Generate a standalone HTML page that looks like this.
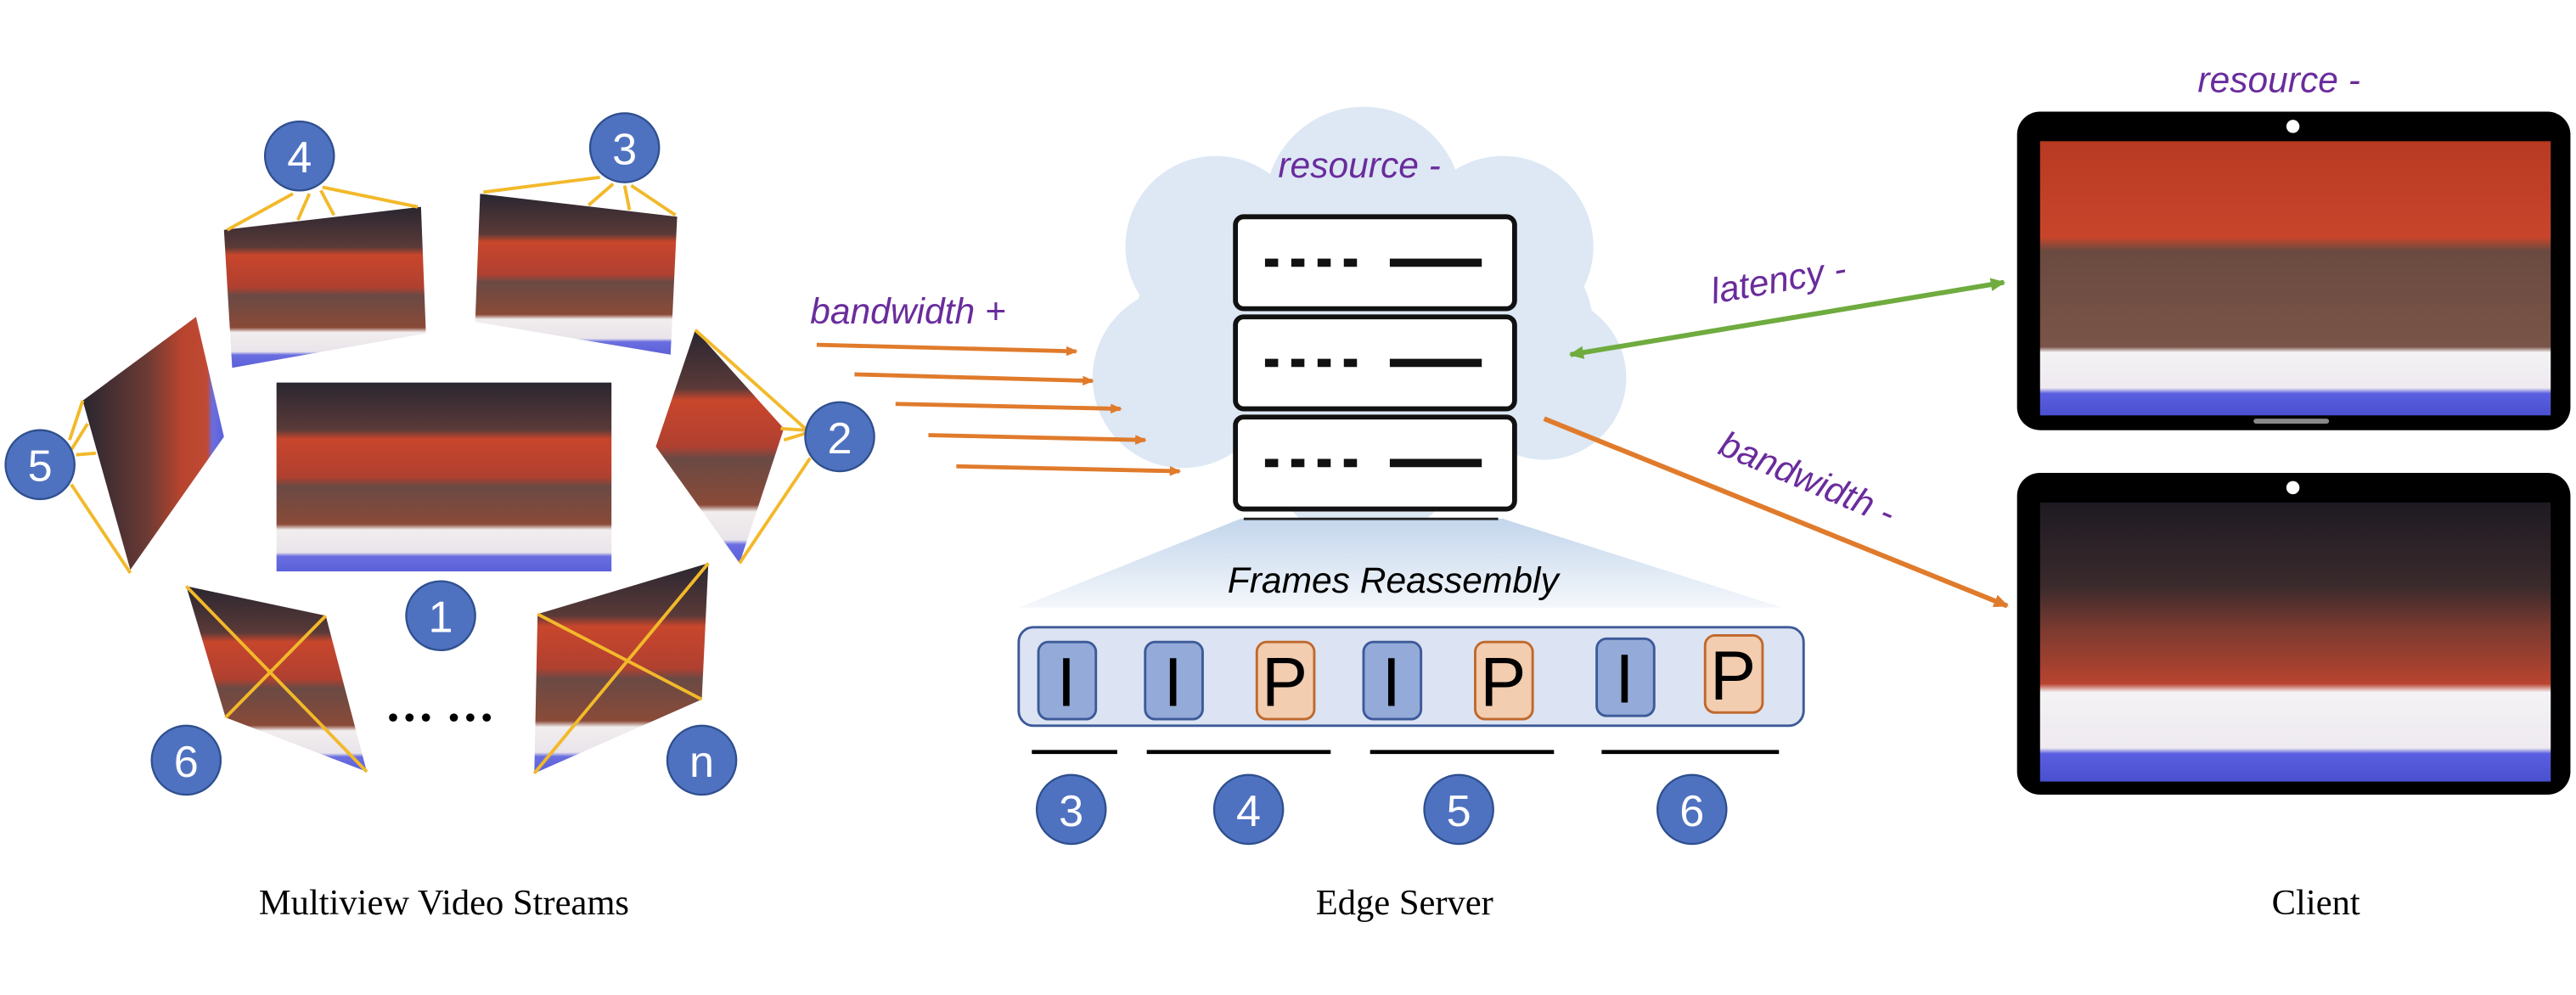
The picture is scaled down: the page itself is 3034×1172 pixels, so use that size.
<!DOCTYPE html>
<html><head><meta charset="utf-8"><style>
html,body{margin:0;padding:0;background:#fff;}
svg{display:block;}
</style></head><body>
<svg width="3034" height="1172" viewBox="0 0 1568 606" xmlns="http://www.w3.org/2000/svg">
<defs>
<linearGradient id="ph" x1="0" y1="0" x2="0" y2="1">
<stop offset="0" stop-color="#2a2630"/><stop offset="0.25" stop-color="#5a3a38"/>
<stop offset="0.3" stop-color="#c8462c"/><stop offset="0.5" stop-color="#b04030"/>
<stop offset="0.55" stop-color="#6a4a44"/><stop offset="0.75" stop-color="#8a4a38"/>
<stop offset="0.78" stop-color="#f2eeee"/><stop offset="0.9" stop-color="#e8e4ea"/>
<stop offset="0.92" stop-color="#6a6ee0"/><stop offset="1" stop-color="#5a60d8"/>
</linearGradient>
<linearGradient id="phs" x1="0" y1="0" x2="1" y2="0">
<stop offset="0" stop-color="#2a2630"/><stop offset="0.45" stop-color="#6a3a34"/>
<stop offset="0.7" stop-color="#b8442e"/><stop offset="0.88" stop-color="#c04a34"/>
<stop offset="0.92" stop-color="#6a6ee0"/><stop offset="1" stop-color="#5a60d8"/>
</linearGradient>
<linearGradient id="scr" x1="0" y1="0" x2="0" y2="1">
<stop offset="0" stop-color="#b83a22"/><stop offset="0.35" stop-color="#c8452b"/>
<stop offset="0.4" stop-color="#6a4a40"/><stop offset="0.75" stop-color="#7a5448"/>
<stop offset="0.77" stop-color="#f4f2f4"/><stop offset="0.9" stop-color="#eeeaf0"/>
<stop offset="0.92" stop-color="#5a5ee0"/><stop offset="1" stop-color="#4a50d0"/>
</linearGradient>
<linearGradient id="scr2" x1="0" y1="0" x2="0" y2="1">
<stop offset="0" stop-color="#1e1a22"/><stop offset="0.3" stop-color="#3a2a2c"/>
<stop offset="0.45" stop-color="#7a3a30"/><stop offset="0.65" stop-color="#b84430"/>
<stop offset="0.68" stop-color="#f4f2f4"/><stop offset="0.88" stop-color="#eeeaf0"/>
<stop offset="0.9" stop-color="#5a5ee0"/><stop offset="1" stop-color="#4a50d0"/>
</linearGradient>
<linearGradient id="tz" x1="0" y1="0" x2="0" y2="1">
<stop offset="0" stop-color="#c3d6ec"/><stop offset="1" stop-color="#f4f7fb"/>
</linearGradient>
<marker id="ao" markerWidth="8" markerHeight="8" refX="6" refY="3" orient="auto" markerUnits="userSpaceOnUse"><path d="M0,0 L7,3 L0,6 Z" fill="#e07b2c"/></marker>
<marker id="ag" markerWidth="10" markerHeight="10" refX="8" refY="4" orient="auto-start-reverse" markerUnits="userSpaceOnUse"><path d="M0,0 L9,4 L0,8 Z" fill="#6fab3e"/></marker>
<marker id="ao2" markerWidth="10" markerHeight="10" refX="8" refY="4" orient="auto" markerUnits="userSpaceOnUse"><path d="M0,0 L9,4 L0,8 Z" fill="#e07b2c"/></marker>
</defs>
<g font-family="Liberation Sans, sans-serif">
<rect x="168" y="233" width="204" height="115" fill="url(#ph)"/>
<polygon points="136,140 256,126 259,203 141,224" fill="url(#ph)"/>
<polygon points="292,118 412,132 408,216 289,196" fill="url(#ph)"/>
<polygon points="50,244 119,193 136,266 79,347" fill="url(#phs)"/>
<polygon points="423,201 477,261 450,343 399,272" fill="url(#ph)"/>
<polygon points="113,357 198,375 223,470 137,437" fill="url(#ph)"/>
<polygon points="327,374 431,343 427,426 325,471" fill="url(#ph)"/>
<g stroke="#f2b92a" stroke-width="2" fill="none">
<line x1="178" y1="118" x2="138" y2="140"/><line x1="188" y1="118" x2="181" y2="134"/>
<line x1="195" y1="116" x2="203" y2="131"/><line x1="196" y1="114" x2="254" y2="126"/>
<line x1="365" y1="108" x2="294" y2="117"/><line x1="373" y1="112" x2="358" y2="125"/>
<line x1="380" y1="113" x2="383" y2="128"/><line x1="384" y1="113" x2="411" y2="131"/>
<line x1="42" y1="268" x2="50" y2="244"/><line x1="43" y1="274" x2="53" y2="258"/>
<line x1="46" y1="277" x2="58" y2="276"/><line x1="43" y1="295" x2="79" y2="349"/>
<line x1="490" y1="261" x2="423" y2="201"/><line x1="490" y1="264" x2="477" y2="268"/>
<line x1="490" y1="262" x2="475" y2="261"/><line x1="493" y1="279" x2="450" y2="343"/>
<line x1="113" y1="357" x2="223" y2="470"/><line x1="198" y1="375" x2="137" y2="437"/>
<line x1="327" y1="374" x2="427" y2="426"/><line x1="431" y1="343" x2="325" y2="471"/>
</g>
<g fill="#4f72c0" stroke="#2f4f8f" stroke-width="1.2">
<circle cx="268" cy="375" r="21"/><circle cx="182" cy="95" r="21"/><circle cx="380" cy="90" r="21"/>
<circle cx="24" cy="283" r="21"/><circle cx="511" cy="266" r="21"/><circle cx="113" cy="463" r="21"/>
<circle cx="427" cy="463" r="21"/>
<circle cx="652" cy="493" r="21"/><circle cx="760" cy="493" r="21"/><circle cx="888" cy="493" r="21"/><circle cx="1030" cy="493" r="21"/>
</g>
<g fill="#fff" font-size="27" text-anchor="middle">
<text x="268" y="385">1</text><text x="182" y="105">4</text><text x="380" y="100">3</text>
<text x="24" y="293">5</text><text x="511" y="276">2</text><text x="113" y="473">6</text>
<text x="427" y="473">n</text>
<text x="652" y="503">3</text><text x="760" y="503">4</text><text x="888" y="503">5</text><text x="1030" y="503">6</text>
</g>
<g fill="#000"><circle cx="239" cy="437" r="2.5"/><circle cx="249" cy="437" r="2.5"/><circle cx="259" cy="437" r="2.5"/>
<circle cx="276" cy="437" r="2.5"/><circle cx="286" cy="437" r="2.5"/><circle cx="296" cy="437" r="2.5"/></g>
<g fill="#dde8f4">
<circle cx="740" cy="150" r="55"/><circle cx="830" cy="125" r="60"/><circle cx="915" cy="150" r="55"/>
<circle cx="720" cy="230" r="55"/><circle cx="940" cy="230" r="50"/><circle cx="830" cy="270" r="60"/>
<ellipse cx="830" cy="200" rx="140" ry="90"/>
</g>
<polygon points="755,316 915,316 1085,370 620,370" fill="url(#tz)"/>
<g fill="#fff" stroke="#111" stroke-width="3">
<rect x="752" y="132" width="170" height="56" rx="5"/><rect x="752" y="193" width="170" height="56" rx="5"/><rect x="752" y="254" width="170" height="56" rx="5"/>
</g>
<g stroke="#111" stroke-width="5">
<path d="M770 160h8M786 160h8M802 160h8M818 160h8M846 160h56"/>
<path d="M770 221h8M786 221h8M802 221h8M818 221h8M846 221h56"/>
<path d="M770 282h8M786 282h8M802 282h8M818 282h8M846 282h56"/>
</g>
<line x1="757" y1="316" x2="912" y2="316" stroke="#222" stroke-width="1.5"/>
<text x="848" y="361" font-size="22" font-style="italic" text-anchor="middle">Frames Reassembly</text>
<rect x="620" y="382" width="478" height="60" rx="9" fill="#dce4f3" stroke="#3d5a99" stroke-width="1.5"/>
<g stroke-width="1.5">
<rect x="632" y="391" width="35" height="47" rx="6" fill="#94aad8" stroke="#3d5a99"/>
<rect x="697" y="391" width="35" height="47" rx="6" fill="#94aad8" stroke="#3d5a99"/>
<rect x="765" y="391" width="35" height="47" rx="6" fill="#f2cdb0" stroke="#c0682c"/>
<rect x="830" y="391" width="35" height="47" rx="6" fill="#94aad8" stroke="#3d5a99"/>
<rect x="898" y="391" width="35" height="47" rx="6" fill="#f2cdb0" stroke="#c0682c"/>
<rect x="972" y="389" width="35" height="47" rx="6" fill="#94aad8" stroke="#3d5a99"/>
<rect x="1038" y="387" width="35" height="47" rx="6" fill="#f2cdb0" stroke="#c0682c"/>
</g>
<g font-size="42" text-anchor="middle" fill="#000">
<text x="649" y="430">I</text><text x="714" y="430">I</text><text x="782" y="430">P</text>
<text x="847" y="430">I</text><text x="915" y="430">P</text><text x="989" y="428">I</text><text x="1055" y="426">P</text>
</g>
<g stroke="#000" stroke-width="2.5">
<line x1="628" y1="458" x2="680" y2="458"/><line x1="698" y1="458" x2="810" y2="458"/>
<line x1="834" y1="458" x2="946" y2="458"/><line x1="975" y1="458" x2="1083" y2="458"/>
</g>
<g stroke="#e07b2c" stroke-width="2.5" marker-end="url(#ao)">
<line x1="497" y1="210" x2="655" y2="214"/><line x1="520" y1="228" x2="665" y2="232"/>
<line x1="545" y1="246" x2="682" y2="249"/><line x1="565" y1="265" x2="697" y2="268"/>
<line x1="582" y1="284" x2="718" y2="287"/>
</g>
<g fill="#6a2c9c" font-style="italic" font-size="22">
<text x="493" y="197">bandwidth +</text>
<text x="778" y="108">resource -</text>
<text x="1338" y="56">resource -</text>
<text x="1043" y="185" transform="rotate(-10 1043 185)">latency -</text>
<text x="1045" y="276" transform="rotate(23 1045 276)">bandwidth -</text>
</g>
<line x1="956" y1="216" x2="1220" y2="172" stroke="#6fab3e" stroke-width="3" marker-start="url(#ag)" marker-end="url(#ag)"/>
<line x1="940" y1="255" x2="1222" y2="369" stroke="#e07b2c" stroke-width="3" marker-end="url(#ao2)"/>
<rect x="1228" y="68" width="337" height="194" rx="14" fill="#000"/>
<rect x="1242" y="86" width="311" height="167" fill="url(#scr)"/>
<circle cx="1396" cy="77" r="4" fill="#fff"/>
<rect x="1372" y="255" width="46" height="3" rx="1.5" fill="#888"/>
<rect x="1228" y="288" width="337" height="196" rx="14" fill="#000"/>
<rect x="1242" y="306" width="311" height="170" fill="url(#scr2)"/>
<circle cx="1396" cy="297" r="4" fill="#fff"/>
<g font-family="Liberation Serif, serif" font-size="22" text-anchor="middle" fill="#000">
<text x="270" y="557">Multiview Video Streams</text>
<text x="855" y="557">Edge Server</text>
<text x="1410" y="557">Client</text>
</g>
</g>
</svg>
</body></html>
